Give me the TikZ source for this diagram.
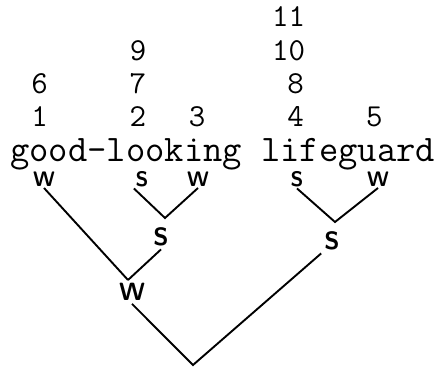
\documentclass[tikz,border=0pt]{standalone}
\usepackage{fontspec}
\usepackage{tikz}

\begin{document}
\begin{tikzpicture}[x=1pt,y=1pt,
  num/.style={font=\fontsize{32}{32}\selectfont\ttfamily,inner sep=0pt},
  leaf/.style={font=\fontsize{21}{21}\selectfont\sffamily\bfseries,inner sep=1.5pt},
  mid/.style={font=\fontsize{25}{25}\selectfont\sffamily\bfseries,inner sep=3pt},
  branch/.style={line width=1.9pt}]
\useasboundingbox (0,0) rectangle (447,-369);
\node[anchor=base west,inner sep=0pt,font=\fontsize{37.5}{37.5}\selectfont\ttfamily] (words) at (10,-161) {good-looking lifeguard};
% grid numbers above the vowels
\foreach \n/\c/\r in {1/1/0,2/6/0,3/9/0,4/14/0,5/18/0,6/1/1,7/6/1,8/14/1,9/6/2}{
  \node[num,anchor=base] (n\n) at ({10+19.69*(\c+.5)},{-126+33*\r}) {\n};}
\node[num,anchor=base east] (n10) at ({10+19.69*15},-60) {10};
\node[num,anchor=base east] (n11) at ({10+19.69*15},-27) {11};
% metrical tree
\node[leaf] (w1) at (44,-179) {W};
\node[leaf] (s2) at (142,-179) {S};
\node[leaf] (w3) at (198,-179) {W};
\node[leaf] (s4) at (297,-179) {S};
\node[leaf] (w5) at (378,-179) {W};
\node[mid] (sl) at (161,-237) {S};
\node[mid] (wl) at (132,-292) {W};
\node[mid] (sr) at (332,-241) {S};
\coordinate (ja) at (165,-218);
\coordinate (jb) at (128,-280);
\coordinate (jc) at (335,-222);
\coordinate (root) at (193,-365);
\draw[branch] (s2.south west) -- (ja) -- (w3.south);
\draw[branch] (w1.south) -- (jb);
\draw[branch] (sl.south) -- (jb);
\draw[branch] (s4.south) -- (jc) -- (w5.south);
\draw[branch] (wl.south) -- (root) -- (sr.south west);
\end{tikzpicture}
\end{document}
